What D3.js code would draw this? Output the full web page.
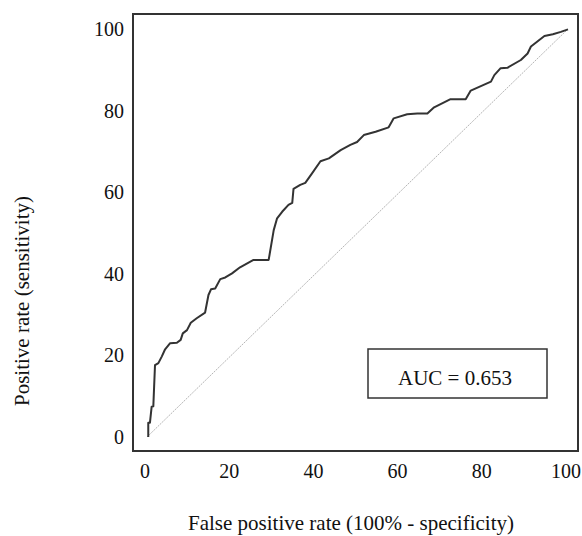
<!DOCTYPE html>
<html lang="en">
<head>
    <meta charset="UTF-8">
    <title>ROC</title>
    <script src="https://cdn.jsdelivr.net/npm/d3@7"></script>
    <style>
        body { margin: 0; background: #fff; }
        text { font-family: "Liberation Serif", "Times New Roman", serif; fill: #111; }
    </style>
</head>
<body>
</body>
<script>
    const width = 582;
    const height = 536;

    // ROC curve (false positive rate, sensitivity)
    const fpr = [0.3, 0.3, 0.7, 1.1, 1.5, 1.9, 2.7, 3.5, 4.3, 5.5, 7.1, 8.0, 8.5, 9.5, 10.4, 11.8, 13.8, 14.6, 15.2, 16.2,
        17.4, 18.6, 20.2, 22.1, 25.3, 28.9, 30.1, 30.9, 32.1, 33.6, 34.5, 34.8, 36.4, 37.6, 39.2, 41.2, 43.2, 46.0, 48.3, 49.9,
        51.5, 54.3, 57.4, 58.6, 61.8, 64.2, 66.6, 68.2, 72.1, 75.7, 76.9, 79.3, 81.7, 82.5, 84.0, 85.6, 88.8, 90.4, 91.2, 94.4,
        96.4, 98.3, 100];
    const tpr = [0, 3.5, 3.5, 7.4, 7.5, 17.6, 18.1, 19.7, 21.5, 23.0, 23.1, 23.8, 25.4, 26.2, 28.0, 29.1, 30.5, 34.8, 36.2, 36.4,
        38.7, 39.1, 40.1, 41.6, 43.4, 43.4, 50.7, 53.6, 55.2, 56.9, 57.4, 60.8, 61.8, 62.3, 64.6, 67.6, 68.3, 70.3, 71.6, 72.3,
        74.0, 74.8, 75.9, 78.1, 79.1, 79.3, 79.3, 80.8, 82.8, 82.8, 84.9, 86.0, 87.1, 88.7, 90.4, 90.5, 92.4, 94.0, 95.7, 98.3,
        98.7, 99.3, 99.9];
    const ticks = [0, 20, 40, 60, 80, 100];
    const aucLabel = "AUC = 0.653";

    const svg = d3.select("body")
        .append("svg")
        .attr("width", width)
        .attr("height", height);

    const x = d3.scaleLinear().domain([0, 100]).range([147, 568]);
    const y = d3.scaleLinear().domain([0, 100]).range([437, 29]);

    // plot frame
    svg.append("rect")
        .attr("x", 133)
        .attr("y", 14)
        .attr("width", 445)
        .attr("height", 437)
        .attr("fill", "none")
        .attr("stroke", "#333")
        .attr("stroke-width", 2);

    // tick labels only, no tick marks
    svg.append("g")
        .selectAll("text")
        .data(ticks)
        .enter()
        .append("text")
        .attr("x", 124)
        .attr("y", d => y(d))
        .attr("dy", "0.35em")
        .attr("text-anchor", "end")
        .style("font-size", "20px")
        .text(d => d);

    svg.append("g")
        .selectAll("text")
        .data(ticks)
        .enter()
        .append("text")
        .attr("x", d => x(d) - 2)
        .attr("y", 471)
        .attr("dy", "0.35em")
        .attr("text-anchor", "middle")
        .style("font-size", "20px")
        .text(d => d);

    // reference diagonal
    svg.append("line")
        .attr("x1", x(0))
        .attr("y1", y(0))
        .attr("x2", x(100))
        .attr("y2", y(100))
        .attr("stroke", "#b5b5b5")
        .attr("stroke-width", 1)
        .attr("stroke-dasharray", "2,1");

    const line = d3.line()
        .x((d, i) => x(fpr[i]))
        .y(d => y(d));

    svg.append("path")
        .datum(tpr)
        .attr("d", line)
        .attr("fill", "none")
        .attr("stroke", "#333")
        .attr("stroke-width", 2)
        .attr("stroke-linejoin", "round");

    // AUC box
    svg.append("rect")
        .attr("x", 368)
        .attr("y", 349)
        .attr("width", 179)
        .attr("height", 49)
        .attr("fill", "#fff")
        .attr("stroke", "#333")
        .attr("stroke-width", 1.5);

    svg.append("text")
        .attr("x", 455)
        .attr("y", 378)
        .attr("dy", "0.35em")
        .attr("text-anchor", "middle")
        .style("font-size", "21px")
        .text(aucLabel);

    // axis titles
    svg.append("text")
        .attr("x", 351)
        .attr("y", 523)
        .attr("dy", "0.35em")
        .attr("text-anchor", "middle")
        .style("font-size", "21px")
        .text("False positive rate (100% - specificity)");

    svg.append("text")
        .attr("transform", "translate(22, 301) rotate(-90)")
        .attr("dy", "0.35em")
        .attr("text-anchor", "middle")
        .style("font-size", "21px")
        .text("Positive rate (sensitivity)");
</script>
</html>
